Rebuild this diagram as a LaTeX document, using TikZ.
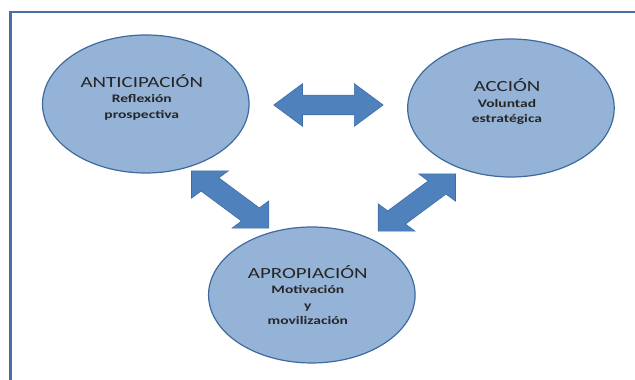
\documentclass[tikz,border=0pt]{standalone}
\usepackage{fontspec}
\setmainfont{Carlito}
\usetikzlibrary{shapes.geometric,shapes.arrows,calc}

\definecolor{frameblue}{HTML}{4A6FA5}
\definecolor{bubblefill}{HTML}{95B3D7}
\definecolor{bubbleedge}{HTML}{3F6A9E}
\definecolor{arrowfill}{HTML}{4F81BD}
\definecolor{arrowedge}{HTML}{3D6DA8}

\tikzset{
  bubble/.style={ellipse, draw=bubbleedge, line width=1.2pt, fill=bubblefill,
    inner sep=0pt, minimum width=153pt, minimum height=138pt},
  twoway/.style={double arrow, fill=arrowfill, draw=arrowedge, line width=0.6pt,
    minimum height=81pt, inner xsep=0pt, inner ysep=9.5pt,
    double arrow head extend=11.5pt, double arrow tip angle=90},
  lbl/.style={align=center, text=black!85,
    font=\fontsize{11.5}{15.5}\selectfont\bfseries}
}
\newcommand{\ttl}[1]{{\fontsize{15.5}{16}\selectfont\mdseries #1}}

\begin{document}
\begin{tikzpicture}[x=1pt, y=-1pt, xscale=1.35, transform shape]
      \useasboundingbox (0,0) rectangle (470.4,380);
      \draw [frameblue, line width=2.5pt] (7.9,380) -- (7.9,12) -- (470.4,12);
      % the three bubbles
      \node [bubble] (antic) at (108,104) {};
      \node [bubble] (accion) at (378.5,108) {};
      \node [bubble, minimum height=136pt] (aprop) at (231,295) {};
      \node [lbl] (antic-txt) at ($(antic)+(-3,-7)$) {\ttl{ANTICIPACIÓN}\\Reflexión\\prospectiva};
      \node [lbl] (accion-txt) at ($(accion)+(-3,-6)$) {\ttl{ACCIÓN}\\Voluntad\\estratégica};
      \node [lbl] (aprop-txt) at ($(aprop)+(-3,0)$) {\ttl{APROPIACIÓN}\\Motivación\\y\\movilización};
      % two-way links
      \node [twoway] (link-ac) at ($(antic)!0.5!(accion)+(0,-1)$) {};
      \node [twoway, rotate=-45, inner ysep=9pt, double arrow head extend=10pt] (link-ap) at ($(antic)!0.5!(aprop)+(1,0)$) {};
      \node [twoway, rotate=45, inner ysep=9pt, double arrow head extend=10pt] (link-cp) at ($(accion)!0.5!(aprop)+(4,1)$) {};
\end{tikzpicture}
\end{document}
